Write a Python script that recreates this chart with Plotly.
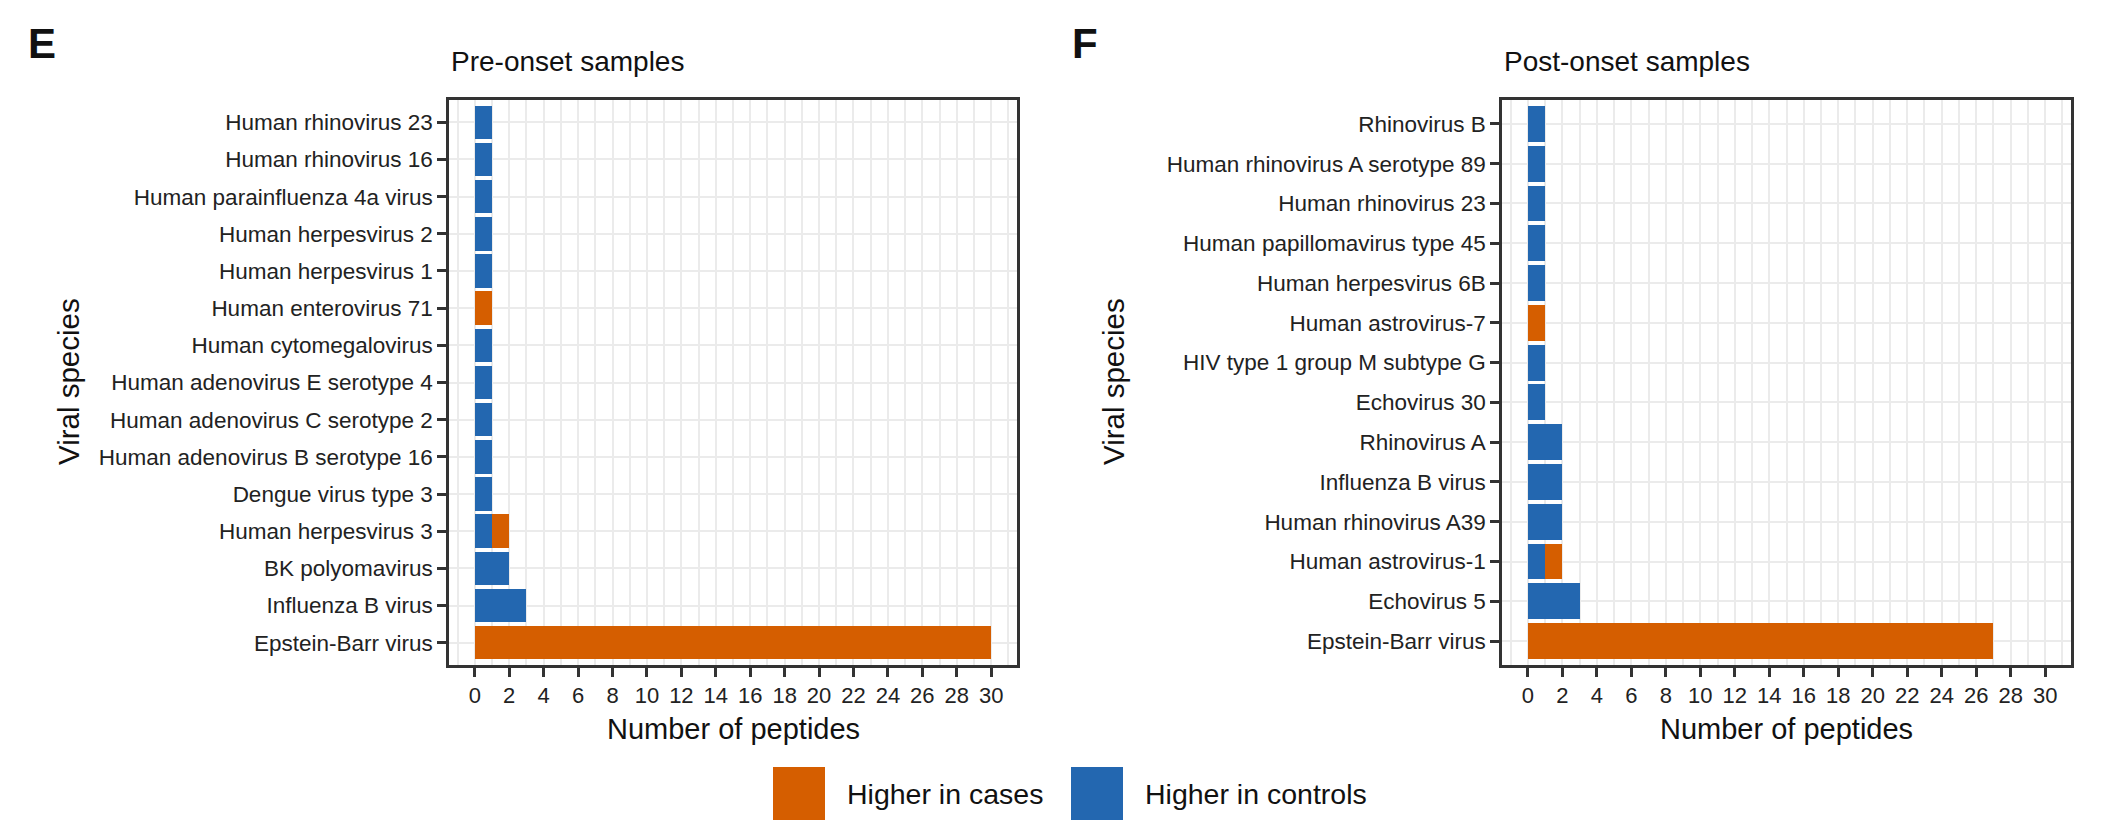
import plotly.graph_objects as go

# ---------------- data ----------------
pre_species = [
    "Human rhinovirus 23", "Human rhinovirus 16", "Human parainfluenza 4a virus",
    "Human herpesvirus 2", "Human herpesvirus 1", "Human enterovirus 71",
    "Human cytomegalovirus", "Human adenovirus E serotype 4", "Human adenovirus C serotype 2",
    "Human adenovirus B serotype 16", "Dengue virus type 3", "Human herpesvirus 3",
    "BK polyomavirus", "Influenza B virus", "Epstein-Barr virus",
]
pre_controls = [1, 1, 1, 1, 1, 0, 1, 1, 1, 1, 1, 1, 2, 3, 0]
pre_cases = [0, 0, 0, 0, 0, 1, 0, 0, 0, 0, 0, 1, 0, 0, 30]

post_species = [
    "Rhinovirus B", "Human rhinovirus A serotype 89", "Human rhinovirus 23",
    "Human papillomavirus type 45", "Human herpesvirus 6B", "Human astrovirus-7",
    "HIV type 1 group M subtype G", "Echovirus 30", "Rhinovirus A", "Influenza B virus",
    "Human rhinovirus A39", "Human astrovirus-1", "Echovirus 5", "Epstein-Barr virus",
]
post_controls = [1, 1, 1, 1, 1, 0, 1, 1, 2, 2, 2, 1, 3, 0]
post_cases = [0, 0, 0, 0, 0, 1, 0, 0, 0, 0, 0, 1, 0, 27]

x_ticks = list(range(0, 31, 2))
legend_labels = ["Higher in cases", "Higher in controls"]

# ---------------- style ----------------
W, H = 2110, 829
ORANGE = "#D55E00"
BLUE = "#2367B0"
GRID = "#EBEBEB"
AXC = "#333333"
FONT = "Liberation Sans, Arial, Helvetica, sans-serif"


def nz(v):
    return [x if x else None for x in v]


def px_x(p):
    return p / W


def px_y(p):
    return 1 - p / H


fig = go.Figure()

panels = [
    (pre_species, pre_controls, pre_cases, "x", "y"),
    (post_species, post_controls, post_cases, "x2", "y2"),
]
for species, ctrl, cases, xa, ya in panels:
    fig.add_trace(go.Bar(
        y=species, x=nz(ctrl), orientation="h", xaxis=xa, yaxis=ya,
        marker=dict(color=BLUE, line=dict(width=0)), name=legend_labels[1],
        showlegend=False, hoverinfo="x+y",
    ))
    fig.add_trace(go.Bar(
        y=species, x=nz(cases), orientation="h", xaxis=xa, yaxis=ya,
        marker=dict(color=ORANGE, line=dict(width=0)), name=legend_labels[0],
        showlegend=False, hoverinfo="x+y",
    ))

top, bottom = 92, 657
left_dom = [px_x(441), px_x(1009)]
right_dom = [px_x(1494), px_x(2063)]
ydom = [px_y(bottom), px_y(top)]

xcommon = dict(
    range=[-1.5, 31.5], tickmode="array", tickvals=x_ticks, ticktext=[str(t) for t in x_ticks],
    showgrid=True, gridcolor=GRID, gridwidth=2, zeroline=False,
    minor=dict(tickmode="linear", tick0=1, dtick=2, showgrid=True, gridcolor=GRID, gridwidth=1.5, ticks=""),
    ticks="outside", ticklen=9, tickwidth=2.5, tickcolor=AXC,
    tickfont=dict(size=22, color="#222222", family=FONT),
    showline=True, linecolor=AXC, linewidth=2.5, mirror=True,
    fixedrange=True,
)
ycommon = dict(
    type="category", showgrid=True, gridcolor=GRID, gridwidth=2, zeroline=False,
    ticks="outside", ticklen=9, tickwidth=2.5, tickcolor=AXC,
    tickfont=dict(size=22.5, color="#222222", family=FONT),
    showline=True, linecolor=AXC, linewidth=2.5, mirror=True,
    fixedrange=True,
)

fig.update_layout(
    width=W, height=H, margin=dict(l=0, r=0, t=0, b=0),
    paper_bgcolor="white", plot_bgcolor="white",
    barmode="stack", bargap=0.1, showlegend=False,
    font=dict(family=FONT, color="#222222"),
    xaxis=dict(domain=left_dom, anchor="y", **xcommon),
    yaxis=dict(domain=ydom, anchor="x", categoryorder="array",
               categoryarray=pre_species[::-1], range=[-0.6, len(pre_species) - 0.4], **ycommon),
    xaxis2=dict(domain=right_dom, anchor="y2", **xcommon),
    yaxis2=dict(domain=ydom, anchor="x2", categoryorder="array",
                categoryarray=post_species[::-1], range=[-0.6, len(post_species) - 0.4], **ycommon),
)

ann = []
# panel letters
for letter, lx in [("E", 18), ("F", 1062)]:
    ann.append(dict(text="<b>%s</b>" % letter, x=px_x(lx), y=px_y(10), xref="paper", yref="paper",
                    xanchor="left", yanchor="top", showarrow=False,
                    font=dict(size=42, family="Liberation Sans Narrow, Arial Narrow, Liberation Sans",
                              color="#111111")))
# panel titles
for txt, x0 in [("Pre-onset samples", 441), ("Post-onset samples", 1494)]:
    ann.append(dict(text=txt, x=px_x(x0), y=px_y(54), xref="paper", yref="paper",
                    xanchor="left", yanchor="middle", showarrow=False,
                    font=dict(size=28, family=FONT, color="#111111")))
# axis titles
for cx in [(441 + 1009) / 2, (1494 + 2063) / 2]:
    ann.append(dict(text="Number of peptides", x=px_x(cx), y=px_y(721), xref="paper", yref="paper",
                    xanchor="center", yanchor="middle", showarrow=False,
                    font=dict(size=29, family=FONT, color="#111111")))
for cx in [60, 1105]:
    ann.append(dict(text="Viral species", x=px_x(cx), y=px_y(374), xref="paper", yref="paper",
                    xanchor="center", yanchor="middle", showarrow=False, textangle=-90,
                    font=dict(size=29.5, family=FONT, color="#111111")))

# legend (keys + labels)
shapes = []
legend_items = [(legend_labels[0], ORANGE, 765), (legend_labels[1], BLUE, 1063)]
for label, col, kx in legend_items:
    shapes.append(dict(type="rect", xref="paper", yref="paper",
                       x0=px_x(kx), x1=px_x(kx + 52), y0=px_y(812), y1=px_y(759),
                       fillcolor=col, line=dict(width=0)))
    ann.append(dict(text=label, x=px_x(kx + 72), y=px_y(786), xref="paper", yref="paper",
                    xanchor="left", yanchor="middle", showarrow=False,
                    font=dict(size=28.5, family=FONT, color="#111111")))

fig.update_layout(annotations=ann, shapes=shapes)

fig.write_html("out.html")
